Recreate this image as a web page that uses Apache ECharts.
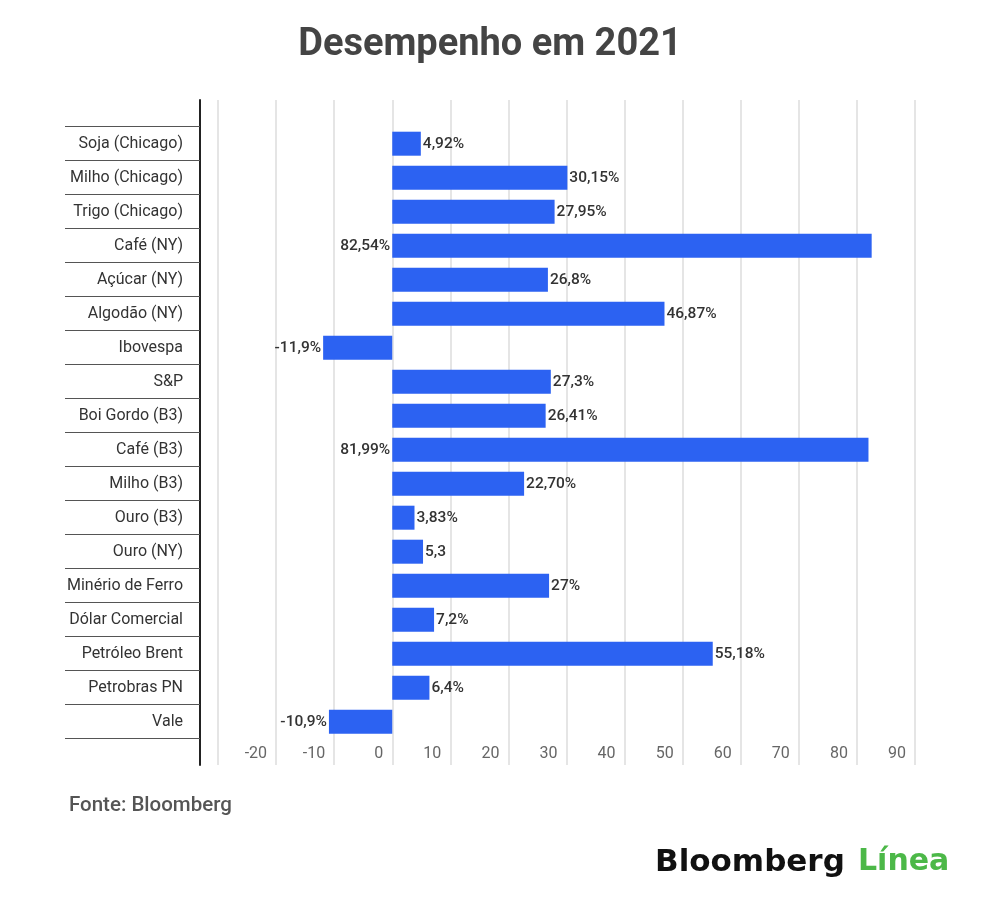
<!DOCTYPE html>
<html>
<head>
<meta charset="utf-8">
<script src="https://cdn.jsdelivr.net/npm/echarts@6/dist/echarts.min.js"></script>
<style>
  html, body { margin: 0; padding: 0; background: #fff; }
  #chart { width: 1000px; height: 911px; }
</style>
</head>
<body>
<div id="chart"></div>
<script>
// categorias, de cima para baixo
const categorias = ['Soja (Chicago)', 'Milho (Chicago)', 'Trigo (Chicago)', 'Café (NY)', 'Açúcar (NY)',
    'Algodão (NY)', 'Ibovespa', 'S&P', 'Boi Gordo (B3)', 'Café (B3)', 'Milho (B3)', 'Ouro (B3)',
    'Ouro (NY)', 'Minério de Ferro', 'Dólar Comercial', 'Petróleo Brent', 'Petrobras PN', 'Vale']

const valores = [4.92, 30.15, 27.95, 82.54, 26.8, 46.87, -11.9, 27.3, 26.41, 81.99, 22.70, 3.83,
    5.3, 27, 7.2, 55.18, 6.4, -10.9]

const rotulos = ['4,92%', '30,15%', '27,95%', '82,54%', '26,8%', '46,87%', '-11,9%', '27,3%', '26,41%',
    '81,99%', '22,70%', '3,83%', '5,3', '27%', '7,2%', '55,18%', '6,4%', '-10,9%']

// rotulo fica a esquerda (negativos e os dois cafés)
const rotuloEsquerda = [false, false, false, true, false, false, true, false, false,
    true, false, false, false, false, false, false, false, true]

const eixoMin = -30
const eixoMax = 90
const eixoIntervalo = 10

const chart = echarts.init(document.getElementById('chart'))

const dados = valores.map((v, i) => ({
    value: v,
    label: { position: rotuloEsquerda[i] ? 'left' : 'right' }
}))

chart.setOption({
    backgroundColor: '#fff',
    animation: false,
    title: [
        {
            text: 'Desempenho em 2021',
            left: 485, top: 21, textAlign: 'center',
            textStyle: { fontFamily: 'Roboto', fontSize: 38, fontWeight: 'bold', color: '#444' }
        },
        {
            text: 'Fonte: Bloomberg',
            left: 64, top: 790,
            textStyle: { fontFamily: 'Roboto', fontSize: 20.5, fontWeight: 500, color: '#555' }
        },
        {
            text: 'Bloomberg',
            left: 650, top: 842,
            textStyle: { fontFamily: 'DejaVu Sans', fontSize: 31, fontWeight: 'bold', color: '#111' }
        },
        {
            text: 'Línea',
            left: 853, top: 842,
            textStyle: { fontFamily: 'DejaVu Sans', fontSize: 30, fontWeight: 'bold', color: '#4cb848' }
        }
    ],
    grid: [
        { left: 218, right: 85, top: 100, height: 665 },
        { left: 218, right: 85, top: 126.7, height: 612 }
    ],
    xAxis: [
        {
            gridIndex: 0, type: 'value', min: eixoMin, max: eixoMax, interval: eixoIntervalo,
            axisLine: { show: false }, axisTick: { show: false },
            splitLine: { show: true, lineStyle: { color: '#ddd', width: 1.5 } },
            axisLabel: {
                inside: true, margin: 3, showMinLabel: false, align: 'right',
                padding: [0, 9, 0, 0],
                fontFamily: 'Roboto', fontSize: 16, color: '#666'
            }
        },
        {
            gridIndex: 1, type: 'value', min: eixoMin, max: eixoMax, interval: eixoIntervalo,
            show: false
        }
    ],
    yAxis: [
        {
            gridIndex: 0, type: 'value', position: 'left', offset: 18,
            axisLine: { show: true, onZero: false, lineStyle: { color: '#222', width: 2 } },
            axisTick: { show: false }, axisLabel: { show: false }, splitLine: { show: false }
        },
        {
            gridIndex: 1, type: 'category', data: categorias, inverse: true, offset: 18,
            axisLine: { show: false, onZero: false },
            axisTick: { show: true, length: 135, interval: 0, lineStyle: { color: '#555', width: 1 } },
            axisLabel: { margin: 17, fontFamily: 'Roboto', fontSize: 16, color: '#333', interval: 0 }
        }
    ],
    series: [
        {
            type: 'bar',
            xAxisIndex: 1, yAxisIndex: 1,
            data: dados,
            barWidth: 24,
            itemStyle: { color: '#2c62f2' },
            label: {
                show: true, distance: 2,
                fontFamily: 'Roboto', fontSize: 15.5, fontWeight: 500, color: '#333',
                formatter: p => rotulos[p.dataIndex]
            }
        }
    ]
})
</script>
</body>
</html>
